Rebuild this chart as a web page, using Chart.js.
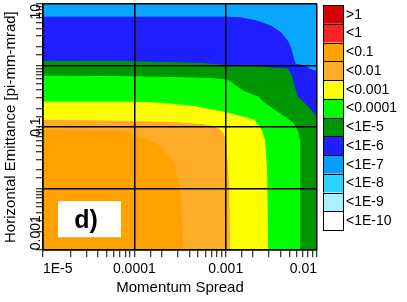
<!DOCTYPE html>
<html><head><meta charset="utf-8">
<script src="https://cdn.jsdelivr.net/npm/chart.js@4"></script>
<style>html,body{margin:0;padding:0;background:#fff}</style>
</head><body>
<canvas id="c" width="407" height="302"></canvas>
<script>
const xTickValues = [1e-5, 1e-4, 1e-3, 1e-2];
const xTickLabels = ['1E-5', '0.0001', '0.001', '0.01'];
const yTickValues = [10, 0.1, 0.001];
const yTickLabels = ['10', '0.1', '0.001'];
const legendLabels = ['>1', '<1', '<0.1', '<0.01', '<0.001', '<0.0001', '<1E-5', '<1E-6', '<1E-7', '<1E-8', '<1E-9', '<1E-10'];
const legendColors = ['#d80000', '#ff2028', '#ffa200', '#ffab2a', '#ffff00', '#00ff00', '#009600', '#2020ff', '#0a9cff', '#2ad4ff', '#aaf0ff', '#ffffff'];

// contour boundaries (outer edge of each level region), data units
const c1e7X = [1e-5, 1e-2];
const c1e7Y = [10, 10];
const c1e6X = [1e-5, 8.9e-5, 1.03e-3, 1.49e-3, 2.25e-3, 3.16e-3, 4.06e-3, 4.80e-3, 5.22e-3, 5.58e-3, 5.78e-3, 7.30e-3, 8.28e-3, 1e-2];
const c1e6Y = [6.1, 6.1, 6.1, 5.94, 5.23, 4.33, 3.38, 2.46, 1.80, 1.24, 1.06, 0.985, 0.88, 0.79];
const c1e5X = [1e-5, 8.9e-5, 4.8e-4, 9.0e-4, 1.03e-3, 2.24e-3, 3.43e-3, 4.76e-3, 5.13e-3, 5.40e-3, 5.67e-3, 6.12e-3, 7.30e-3, 8.64e-3, 1e-2];
const c1e5Y = [1.17, 1.16, 1.09, 1.02, 1.01, 0.96, 0.90, 0.88, 0.73, 0.58, 0.43, 0.31, 0.244, 0.188, 0.139];
const c1e4X = [1e-5, 8.9e-5, 4.8e-4, 9.0e-4, 1.05e-3, 1.25e-3, 1.61e-3, 2.24e-3, 2.67e-3, 3.43e-3, 4.41e-3, 5.40e-3, 6.12e-3, 6.44e-3, 6.44e-3];
const c1e4Y = [0.676, 0.658, 0.627, 0.597, 0.581, 0.481, 0.374, 0.31, 0.244, 0.188, 0.146, 0.119, 0.088, 0.061, 0.001];
const c1e3X = [1e-5, 8.9e-5, 2.05e-4, 4.8e-4, 9.3e-4, 1.53e-3, 2.07e-3, 2.47e-3, 2.67e-3, 2.81e-3, 2.88e-3];
const c1e3Y = [0.254, 0.254, 0.244, 0.2125, 0.176, 0.146, 0.129, 0.088, 0.061, 0.0196, 0.001];
const c1e2X = [1e-5, 8.9e-5, 2.63e-4, 5.2e-4, 7.21e-4, 8.6e-4, 9.51e-4, 1.0e-3, 1.038e-3, 1.079e-3, 1.106e-3];
const c1e2Y = [0.1287, 0.124, 0.119, 0.1107, 0.1027, 0.0917, 0.076, 0.0541, 0.0285, 0.0103, 0.001];
const c1e1X = [1e-5, 7.87e-5, 1.065e-4, 1.76e-4, 2.63e-4, 3.14e-4, 3.39e-4];
const c1e1Y = [0.0883, 0.085, 0.0704, 0.0541, 0.0285, 0.0103, 0.001];

const FONT = "'Liberation Sans', Arial, sans-serif";
Chart.defaults.font.family = FONT;
Chart.defaults.color = '#000';

// innermost first (drawn on top)
const regions = [
  [c1e1X, c1e1Y, '#ffa200'],
  [c1e2X, c1e2Y, '#ffab2a'],
  [c1e3X, c1e3Y, '#ffff00'],
  [c1e4X, c1e4Y, '#00ff00'],
  [c1e5X, c1e5Y, '#009600'],
  [c1e6X, c1e6Y, '#1e1eff'],
  [c1e7X, c1e7Y, '#08a6ff']
];
const datasets = regions.map(([xs, ys, col]) => ({
  data: xs.map((v, i) => ({x: v, y: ys[i]})),
  backgroundColor: col,
  borderColor: col,
  borderWidth: 1,
  pointRadius: 0,
  fill: 'start',
  tension: 0
}));

const isPow10 = v => Math.abs(Math.log10(v) - Math.round(Math.log10(v))) < 1e-6;

const extras = {
  id: 'extras',
  afterDraw(chart) {
    const ctx = chart.ctx;
    const ys = chart.scales.y;
    const ca = chart.chartArea;
    ctx.save();
    // y tick labels (rotated)
    ctx.font = '14px ' + FONT;
    ctx.fillStyle = '#000';
    ctx.textBaseline = 'alphabetic';
    yTickValues.forEach((v, i) => {
      const py = ys.getPixelForValue(v);
      ctx.save();
      ctx.translate(39.5, py);
      ctx.rotate(-Math.PI / 2);
      ctx.textAlign = i === 0 ? 'right' : (i === yTickValues.length - 1 ? 'left' : 'center');
      ctx.fillText(yTickLabels[i], 0, 0);
      ctx.restore();
    });
    // legend
    const bx = 323, bw = 20, top = 5, rh = 18.75;
    legendLabels.forEach((lab, i) => {
      const y0 = top + i * rh;
      ctx.fillStyle = legendColors[i];
      ctx.fillRect(bx, y0, bw, rh);
      ctx.strokeStyle = '#000';
      ctx.lineWidth = 1;
      ctx.strokeRect(bx + 0.5, Math.round(y0) + 0.5, bw, Math.round(rh));
      ctx.fillStyle = '#000';
      ctx.textAlign = 'left';
      ctx.textBaseline = 'middle';
      ctx.font = '14px ' + FONT;
      ctx.fillText(lab, bx + bw + 3, y0 + rh / 2 + 0.5);
    });
    // panel tag
    ctx.fillStyle = '#fff';
    ctx.fillRect(ca.left + 15, ca.bottom - 49, 63, 36);
    ctx.fillStyle = '#000';
    ctx.font = 'bold 25px ' + FONT;
    ctx.textAlign = 'center';
    ctx.textBaseline = 'alphabetic';
    ctx.fillText('d)', ca.left + 43, ca.bottom - 22);
    ctx.restore();
  }
};

const gridOpts = {
  z: 1,
  color: c => isPow10(c.tick.value) ? '#000' : 'rgba(0,0,0,0)',
  lineWidth: 1.5,
  tickColor: '#000',
  tickWidth: 1,
  tickLength: 7
};

new Chart(document.getElementById('c'), {
  type: 'line',
  data: {datasets},
  options: {
    responsive: false,
    animation: false,
    events: [],
    layout: {padding: {top: 4, right: 90, bottom: 5, left: 0}},
    plugins: {legend: {display: false}, tooltip: {enabled: false}},
    scales: {
      x: {
        type: 'logarithmic',
        min: 1e-5, max: 1e-2,
        border: {color: '#000', width: 1.5, z: 2},
        grid: gridOpts,
        ticks: {
          z: 2,
          autoSkip: false, maxRotation: 0, minRotation: 0, align: 'inner', padding: 4,
          font: {size: 14},
          callback: v => {
            const k = xTickValues.findIndex(t => Math.abs(Math.log10(t) - Math.log10(v)) < 1e-6);
            return k >= 0 ? xTickLabels[k] : '';
          }
        },
        title: {display: true, text: 'Momentum Spread', font: {size: 15}, padding: {top: -3, bottom: 0}}
      },
      y: {
        type: 'logarithmic',
        min: 1e-3, max: 10,
        border: {color: '#000', width: 1.5, z: 2},
        grid: gridOpts,
        ticks: {display: false, autoSkip: false, z: 2},
        title: {display: true, text: 'Horizontal Emittance [pi-mm-mrad]', font: {size: 15}, padding: {top: 2, bottom: 16}}
      }
    }
  },
  plugins: [extras]
});
</script>
</body></html>
